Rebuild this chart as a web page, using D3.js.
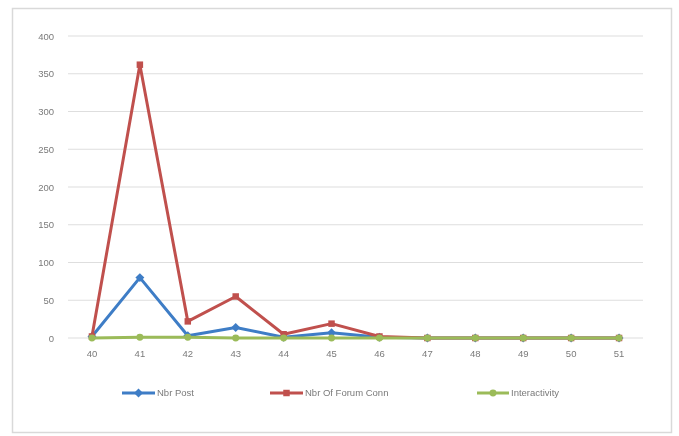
<!DOCTYPE html>
<html>
<head>
<meta charset="utf-8">
<script src="https://cdn.jsdelivr.net/npm/d3@7"></script>
<style>
  html, body { margin: 0; padding: 0; background: #fff; }
  svg { display: block; filter: blur(0.6px); }
  text { font-family: "Liberation Sans", "DejaVu Sans", sans-serif; }
</style>
</head>
<body>
<svg id="chart" width="679" height="436"></svg>
<script>
// Weeks on the x axis
const weeks = ["40", "41", "42", "43", "44", "45", "46", "47", "48", "49", "50", "51"];
// Series values per week
const nbrPost = [2, 80, 3, 14, 1, 7, 1, 0, 0, 0, 0, 0];
const nbrForumConn = [2, 362, 22, 55, 5, 19, 2, 0, 0, 0, 0, 0];
const interactivity = [0, 1, 1, 0, 0, 0, 0, 0, 0, 0, 0, 0];
// Y axis ticks
const yTicks = [0, 50, 100, 150, 200, 250, 300, 350, 400];

const series = [
  { name: "Nbr Post", values: nbrPost, color: "#3E7DC6", marker: "diamond" },
  { name: "Nbr Of Forum Conn", values: nbrForumConn, color: "#C0504D", marker: "square" },
  { name: "Interactivity", values: interactivity, color: "#9BBB59", marker: "circle" }
];

const svg = d3.select("#chart");

// Outer chart frame
svg.append("rect")
  .attr("x", 12.5).attr("y", 8.5)
  .attr("width", 659).attr("height", 424)
  .attr("fill", "#fff")
  .attr("stroke", "#d9d9d9")
  .attr("stroke-width", 1.5);

const plot = { left: 68, right: 643, top: 36, bottom: 338 };

const x = d3.scaleBand().domain(weeks).range([plot.left, plot.right]);
const y = d3.scaleLinear().domain([0, 400]).range([plot.bottom, plot.top]);
const cx = w => x(w) + x.bandwidth() / 2;

// Horizontal gridlines
svg.append("g")
  .selectAll("line")
  .data(yTicks)
  .join("line")
  .attr("x1", plot.left).attr("x2", plot.right)
  .attr("y1", d => y(d)).attr("y2", d => y(d))
  .attr("stroke", "#dedede")
  .attr("stroke-width", 1.2);

// Y axis labels
const yAxis = svg.append("g")
  .attr("transform", `translate(${plot.left - 14},0)`)
  .call(d3.axisLeft(y).tickValues(yTicks).tickSize(0).tickPadding(0));
yAxis.select(".domain").remove();
yAxis.selectAll("text")
  .attr("fill", "#7a7a7a")
  .attr("font-size", 9.5);

// X axis labels
const xAxis = svg.append("g")
  .attr("transform", `translate(0,${plot.bottom + 12})`)
  .call(d3.axisBottom(x).tickSize(0).tickPadding(0));
xAxis.select(".domain").remove();
xAxis.selectAll("text")
  .attr("fill", "#7a7a7a")
  .attr("font-size", 9.5);

// Square-rotated diamond, like a spreadsheet line marker
const wideDiamond = {
  draw(ctx, size) {
    const r = Math.sqrt(size / 2);
    ctx.moveTo(0, -r);
    ctx.lineTo(r, 0);
    ctx.lineTo(0, r);
    ctx.lineTo(-r, 0);
    ctx.closePath();
  }
};

const markerPath = {
  diamond: d3.symbol().type(wideDiamond).size(40),
  square: d3.symbol().type(d3.symbolSquare).size(42),
  circle: d3.symbol().type(d3.symbolCircle).size(38)
};

const line = d3.line().x((d, i) => cx(weeks[i])).y(d => y(d));

series.forEach(s => {
  const g = svg.append("g");
  g.append("path")
    .datum(s.values)
    .attr("d", line)
    .attr("fill", "none")
    .attr("stroke", s.color)
    .attr("stroke-width", 3)
    .attr("stroke-linejoin", "round");
  g.selectAll("path.mk")
    .data(s.values)
    .join("path")
    .attr("class", "mk")
    .attr("d", markerPath[s.marker]())
    .attr("transform", (d, i) => `translate(${cx(weeks[i])},${y(d)})`)
    .attr("fill", s.color);
});

// Legend
const legendItems = [
  { s: series[0], x0: 122, x1: 155 },
  { s: series[1], x0: 270, x1: 303 },
  { s: series[2], x0: 477, x1: 509 }
];
const ly = 393;
const lg = svg.append("g");
legendItems.forEach(it => {
  lg.append("line")
    .attr("x1", it.x0).attr("x2", it.x1)
    .attr("y1", ly).attr("y2", ly)
    .attr("stroke", it.s.color).attr("stroke-width", 3);
  lg.append("path")
    .attr("d", markerPath[it.s.marker]())
    .attr("transform", `translate(${(it.x0 + it.x1) / 2},${ly})`)
    .attr("fill", it.s.color);
  lg.append("text")
    .attr("x", it.x1 + 2).attr("y", ly)
    .attr("dy", "0.35em")
    .attr("fill", "#7a7a7a")
    .attr("font-size", 9.5)
    .text(it.s.name);
});
</script>
</body>
</html>
